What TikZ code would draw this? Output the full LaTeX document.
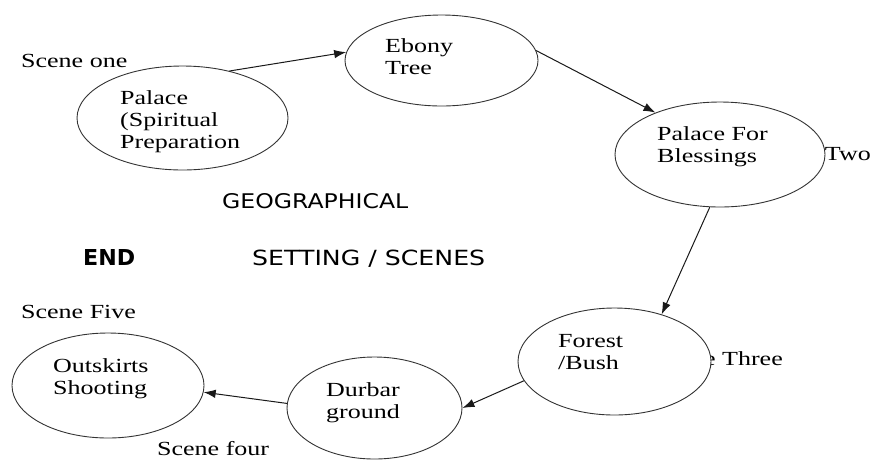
\documentclass[tikz,border=0pt]{standalone}
\usepackage{fontspec}
\setmainfont{Liberation Serif}[FakeStretch=1.3]
\newfontfamily\comicfont{DejaVu Sans}
\usetikzlibrary{shapes.geometric,arrows.meta}
\tikzset{
  place/.style={ellipse, draw=black!80, line width=0.9pt, fill=white, inner sep=0pt},
  lbl/.style={anchor=base west, inner sep=0pt, font=\fontsize{20}{22}\selectfont},
  sans/.style={anchor=base west, inner sep=0pt, font=\comicfont},
  link/.style={draw=black!90, line width=1pt, -{Latex[length=12pt,width=8.5pt]}},
}
\begin{document}
\begin{tikzpicture}[x=1pt,y=-1pt]
\useasboundingbox (0,0) rectangle (872,459);
% hidden label behind Forest ellipse
\node[lbl, anchor=base east] (sthree) at (783,365) {Scene Three};
% places
\node[place, minimum width=211pt, minimum height=104pt] (pal) at (182.5,118) {};
\node[place, minimum width=193pt, minimum height=91pt] (ebo) at (441.5,60.5) {};
\node[place, minimum width=210pt, minimum height=105pt] (bls) at (720,154.5) {};
\node[place, minimum width=193pt, minimum height=107pt] (for) at (614.5,361.5) {};
\node[place, minimum width=175pt, minimum height=102pt] (dur) at (374.5,408) {};
\node[place, minimum width=192pt, minimum height=105pt] (out) at (108,385.5) {};
% texts in places
\begin{scope}
  \clip (100,80) rectangle (300,152.5);
  \node[lbl] (tpal) at (120,104) {\begin{tabular}[t]{@{}l@{}}Palace\\(Spiritual\\Preparation\end{tabular}};
\end{scope}
\node[lbl] (tebo) at (385,52) {\begin{tabular}[t]{@{}l@{}}Ebony\\Tree\end{tabular}};
\node[lbl] (tbls) at (657,140) {\begin{tabular}[t]{@{}l@{}}Palace For\\Blessings\end{tabular}};
\node[lbl] (tfor) at (558,347) {\begin{tabular}[t]{@{}l@{}}Forest\\/Bush\end{tabular}};
\node[lbl] (tdur) at (326,396) {\begin{tabular}[t]{@{}l@{}}Durbar\\ground\end{tabular}};
\node[lbl] (tout) at (53,372) {\begin{tabular}[t]{@{}l@{}}Outskirts\\Shooting\end{tabular}};
% scene labels
\node[lbl] (sone) at (21,67) {Scene one};
\node[lbl, anchor=base east] (stwo) at (871,160) {Two};
\node[lbl] (sfive) at (21,318) {Scene Five};
\node[lbl] (sfour) at (157,455) {Scene four};
% central titles
\node[sans] (geo) at (222,208) {\resizebox{186pt}{15pt}{GEOGRAPHICAL}};
\node[sans] (endt) at (83,265) {\resizebox{52pt}{16pt}{\bfseries END}};
\node[sans] (sets) at (252,265) {\resizebox{233pt}{15.5pt}{SETTING / SCENES}};
% connectors
\draw[link] (pal.45) -- (ebo.175);
\draw[link] (ebo.6) -- (bls.147);
\draw[link] (bls.259) -- (for.45);
\draw[link] (for.192) -- (dur.0);
\draw[link] (dur.177) -- (out.-4);
\end{tikzpicture}
\end{document}
